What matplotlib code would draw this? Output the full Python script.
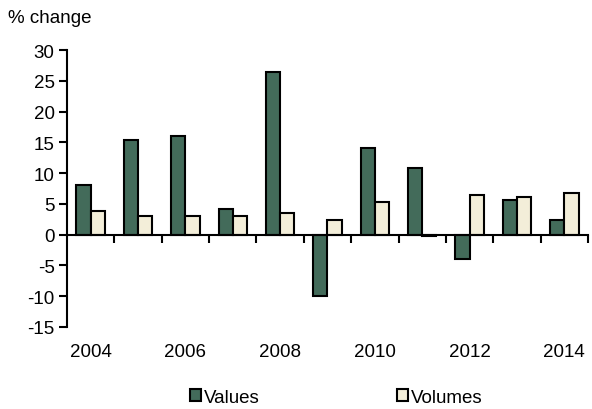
import numpy as np
import matplotlib.pyplot as plt

plt.rcParams['font.family'] = ['Liberation Sans', 'DejaVu Sans']
plt.rcParams['axes.unicode_minus'] = False

years = [2004, 2005, 2006, 2007, 2008, 2009, 2010, 2011, 2012, 2013, 2014]
values = [8.1, 15.3, 16.1, 4.1, 26.4, -10.0, 14.0, 10.9, -4.0, 5.6, 2.4]
volumes = [3.9, 3.0, 3.1, 3.1, 3.5, 2.4, 5.3, -0.2, 6.5, 6.1, 6.7]
year_labels = ["2004", "2006", "2008", "2010", "2012", "2014"]

fs = 13.5

fig = plt.figure(figsize=(5.92, 4.10), dpi=100)
ax = fig.add_axes([0.1132, 0.2, 0.88, 0.6756])

x = np.arange(len(years))
w = 0.3
ax.bar(x - w / 2, values, w, color="#436b5a", edgecolor="black", linewidth=1.5, label="Values")
ax.bar(x + w / 2, volumes, w, color="#f3eed9", edgecolor="black", linewidth=1.5, label="Volumes")

ax.set_xlim(-0.5, len(years) - 0.5)
ax.set_ylim(-15, 30)
ax.set_yticks(range(-15, 31, 5))
ax.tick_params(axis="y", direction="out", length=6, width=1.5, labelsize=fs, pad=3)

ax.spines["top"].set_visible(False)
ax.spines["right"].set_visible(False)
ax.spines["bottom"].set_position(("data", 0))
ax.spines["bottom"].set_linewidth(1.5)
ax.spines["left"].set_linewidth(1.5)
ax.set_xticks(x + 0.5)
ax.set_xticklabels([])
ax.tick_params(axis="x", direction="out", length=6, width=1.5)

# year labels under the plot area
for lab in year_labels:
    i = years.index(int(lab))
    ax.text(i, -0.09, lab, transform=ax.get_xaxis_transform(),
            ha="center", va="center", fontsize=fs)

fig.text(0.013, 0.955, "% change", fontsize=fs, ha="left", va="center")

fig.legend(loc="center", bbox_to_anchor=(0.568, 0.028), ncol=2, frameon=False,
           fontsize=fs, handlelength=0.6, handleheight=0.6, handletextpad=0.15,
           columnspacing=7.3, borderpad=0)

plt.savefig("out.png", dpi=100)
